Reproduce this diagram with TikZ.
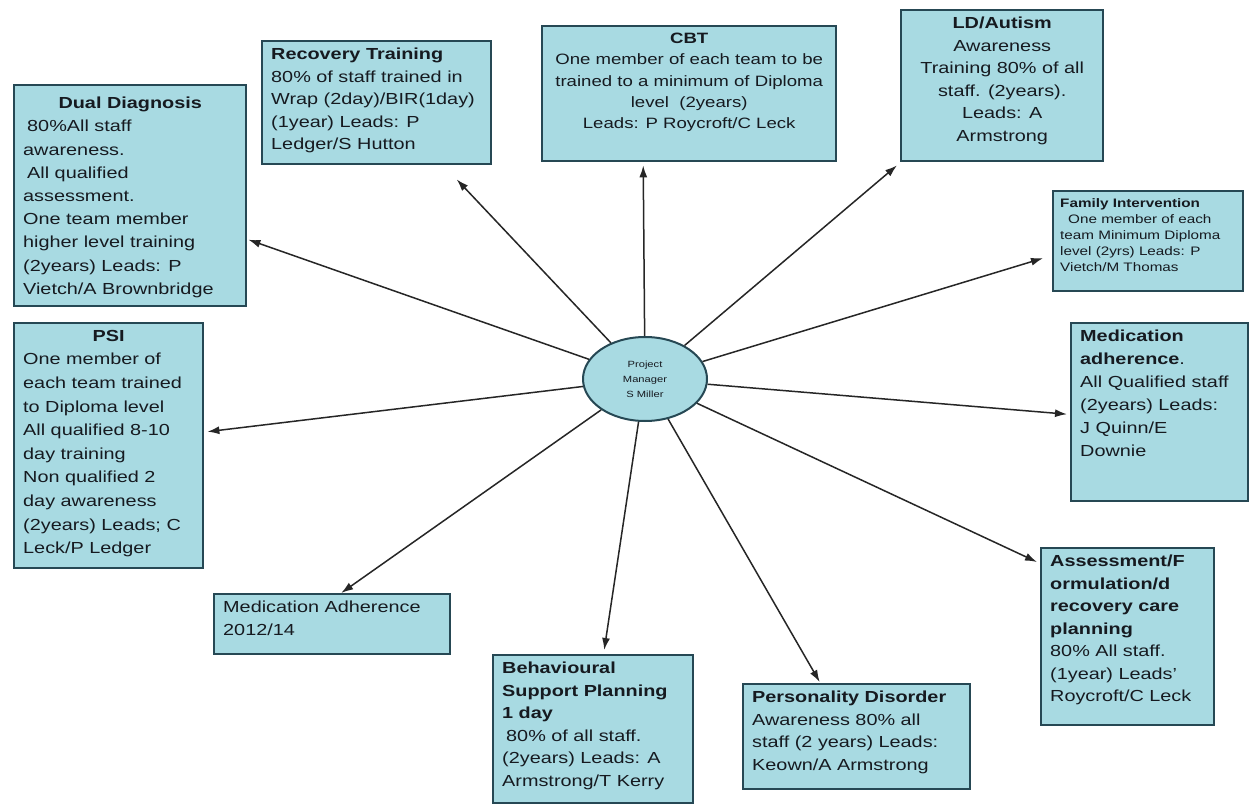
\documentclass[tikz,border=0pt]{standalone}
\usepackage{fontspec}
\setmainfont{Liberation Sans}[FakeStretch=1.24]
\usetikzlibrary{arrows.meta,shapes.geometric,calc}
\definecolor{boxfill}{RGB}{168,218,226}
\definecolor{boxline}{RGB}{38,72,84}
\definecolor{txt}{RGB}{22,26,32}
\newcommand{\bx}[3]{\parbox[c][#2][t]{#1}{\raggedright\vspace*{2pt}#3}}
\tikzset{
  box/.style={draw=boxline, fill=boxfill, line width=2.4pt, inner xsep=9pt, inner ysep=5pt,
    anchor=north west, text=txt, font=\fontsize{16}{22.5}\selectfont},
  arr/.style={-{Latex[length=12pt,width=8pt]}, line width=1.5pt, black!85},
  pmstyle/.style={ellipse, draw=boxline, fill=boxfill, line width=2pt, minimum width=124pt,
    minimum height=84pt, inner sep=0pt, text=txt, align=center, font=\fontsize{9}{15}\selectfont}
}
\begin{document}
\begin{tikzpicture}[x=1pt,y=-1pt]
\useasboundingbox (0,0) rectangle (1249,805);
\fill[white] (0,0) rectangle (1249,805);

\node[pmstyle] (pm) at (645,379) {Project\\Manager\\S Miller};

\node[box, font=\fontsize{16}{23.2}\selectfont] (dd) at (13,84) {\bx{214pt}{211pt}{\vspace*{5pt}{\centering\bfseries Dual Diagnosis\par}
\hspace*{4pt}80\%All staff\\
awareness.\\
\hspace*{4pt}All qualified\\
assessment.\\
One team member\\
higher level training\\
(2years) Leads: P\\
Vietch/A Brownbridge}};

\node[box] (rt) at (261,40) {\bx{211pt}{113pt}{\textbf{Recovery Training}\\
80\% of staff trained in\\
Wrap (2day)/BIR(1day)\\
(1year) Leads: P\\
Ledger/S Hutton}};

\node[box, font=\fontsize{15}{21.3}\selectfont] (cbt) at (541,25) {\bx{276pt}{125pt}{\centering\textbf{CBT}\\
One member of each team to be\\
trained to a minimum of Diploma\\
level \ (2years)\\
Leads: P Roycroft/C Leck}};

\node[box] (ld) at (900,9) {\bx{184pt}{141pt}{\centering\textbf{LD/Autism}\\
Awareness\\
Training 80\% of all\\
staff. (2years).\\
Leads: A\\
Armstrong}};

\node[box, font=\fontsize{12.3}{16}\selectfont, inner xsep=7pt] (fi) at (1052,190) {\bx{176pt}{90pt}{\textbf{Family Intervention}\\
\hspace*{8pt}One member of each\\
team Minimum Diploma\\
level (2yrs) Leads: P\\
Vietch/M Thomas}};

\node[box, font=\fontsize{16}{23}\selectfont] (ma) at (1070,322) {\bx{159pt}{168pt}{\textbf{Medication}\\
\textbf{adherence}.\\
All Qualified staff\\
(2years) Leads:\\
J Quinn/E\\
Downie}};

\node[box] (as) at (1040,547) {\bx{155pt}{167pt}{\textbf{Assessment/F}\\
\textbf{ormulation/d}\\
\textbf{recovery care}\\
\textbf{planning}\\
80\% All staff.\\
(1year) Leads'\\
Roycroft/C Leck}};

\node[box] (pd) at (742,683) {\bx{209pt}{95pt}{\textbf{Personality Disorder}\\
Awareness 80\% all\\
staff (2 years) Leads:\\
Keown/A Armstrong}};

\node[box] (bsp) at (492,654) {\bx{182pt}{138pt}{\textbf{Behavioural}\\
\textbf{Support Planning}\\
\textbf{1 day}\\
\hspace*{4pt}80\% of all staff.\\
(2years) Leads: A\\
Armstrong/T Kerry}};

\node[box] (ma12) at (213,593) {\bx{218pt}{50pt}{Medication Adherence\\
2012/14}};

\node[box, font=\fontsize{16}{23.6}\selectfont] (psi) at (13,322) {\bx{171pt}{235pt}{{\centering\bfseries PSI\par}
One member of\\
each team trained\\
to Diploma level\\
All qualified 8-10\\
day training\\
Non qualified 2\\
day awareness\\
(2years) Leads; C\\
Leck/P Ledger}};

\coordinate (t1) at ($(dd.east)+(1,44)$);
\coordinate (t2) at ($(rt.south)+(80,14)$);
\coordinate (t3) at ($(cbt.south)+(-46,3)$);
\coordinate (t4) at ($(ld.south west)+(-3,3)$);
\coordinate (t5) at ($(fi.west)+(-9,17)$);
\coordinate (t6) at ($(ma.west)+(-3,2)$);
\coordinate (t7) at ($(as.north west)+(-3,15)$);
\coordinate (t8) at ($(pd.north)+(-37,-1)$);
\coordinate (t9) at ($(bsp.north)+(11,-4)$);
\coordinate (t10) at ($(ma12.north)+(9,0)$);
\coordinate (t11) at ($(psi.east)+(3,-14)$);

\foreach \t in {t1,t2,t3,t4,t5,t6,t7,t8,t9,t10,t11}
  \draw[arr] (pm) -- (\t);
\end{tikzpicture}
\end{document}
